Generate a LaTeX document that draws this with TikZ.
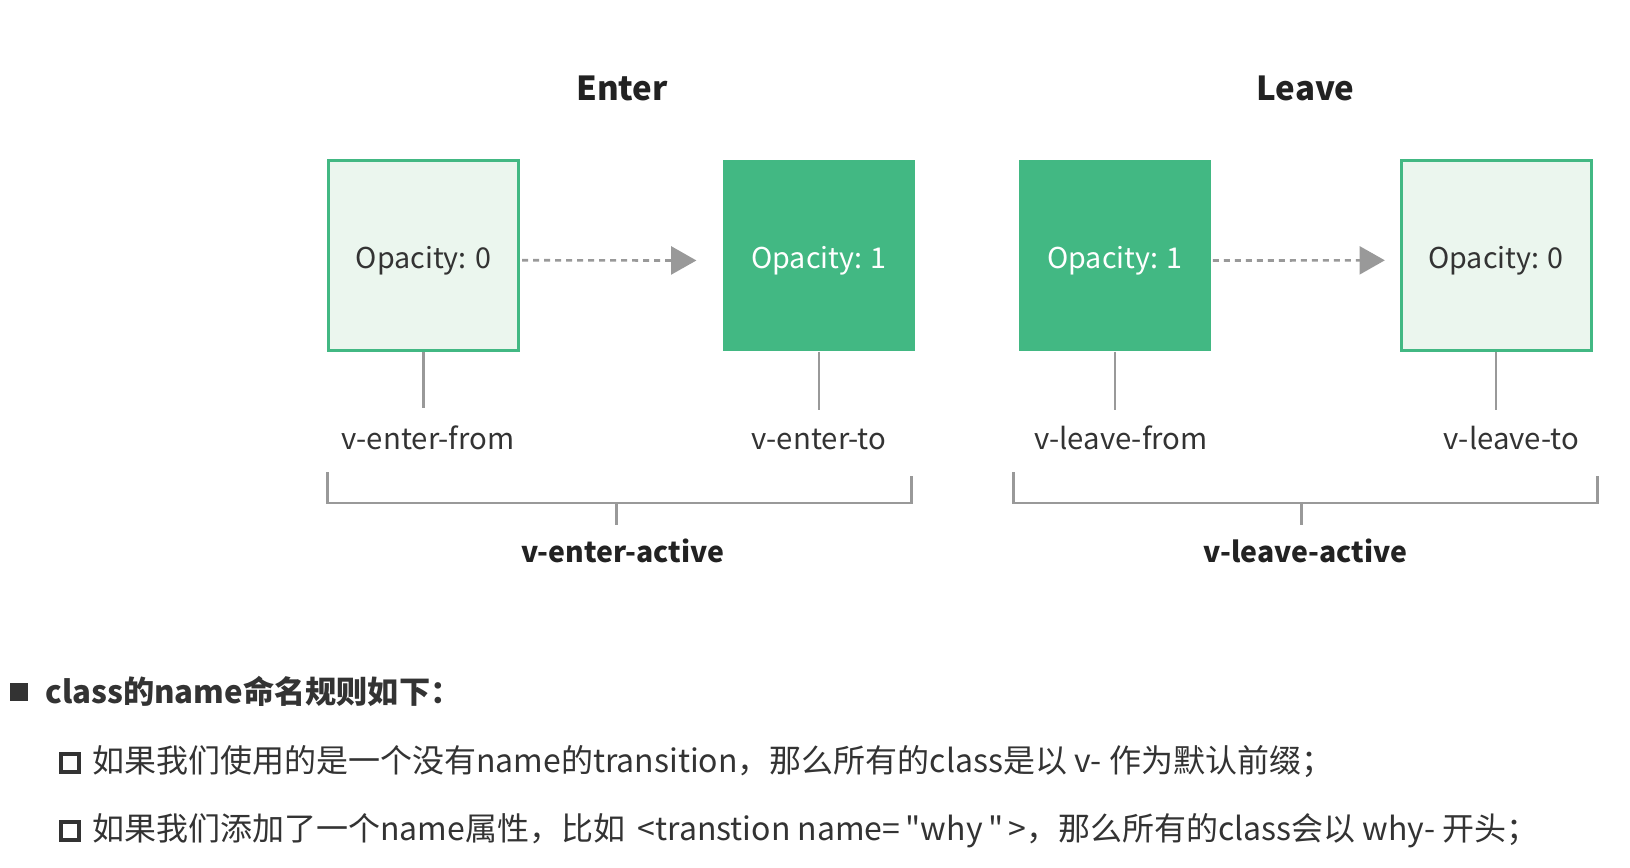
\documentclass[tikz,border=0pt]{standalone}
\usepackage{fontspec}
\setmainfont{Noto Sans CJK SC}
\newfontfamily\plainfont{Noto Sans CJK SC}
\usetikzlibrary{positioning,arrows.meta}

\definecolor{vuegreen}{HTML}{42B883}
\definecolor{palegreen}{HTML}{EBF6EE}
\definecolor{linegray}{HTML}{999999}
\definecolor{inkgray}{HTML}{333333}
\definecolor{headink}{HTML}{222222}

\tikzset{
  zerobox/.style={draw=vuegreen, line width=2.25pt, fill=palegreen, text=inkgray,
    minimum width=142.5pt, minimum height=142.5pt, inner sep=0pt},
  onebox/.style={fill=vuegreen, text=white,
    minimum width=143.5pt, minimum height=143.5pt, inner sep=0pt},
  txt/.style={font=\fontsize{21.5pt}{26pt}\selectfont, inner sep=0pt,
    text height=20pt, text depth=1.2pt},
  lbl/.style={font=\fontsize{22pt}{26pt}\selectfont, inner sep=0pt, text=inkgray, anchor=base},
  title/.style={font=\fontsize{24.8pt}{30pt}\selectfont\bfseries, text=headink},
  active/.style={font=\fontsize{21.3pt}{26pt}\selectfont\bfseries, inner sep=0pt, text=headink, anchor=base},
  stem/.style={draw=linegray, line width=1.6pt},
  flow/.style={draw=linegray, line width=2pt, dash pattern=on 4.5pt off 3.75pt,
    -{Triangle[length=19pt, width=21pt]}},
  body/.style={font=\plainfont\fontsize{24pt}{28pt}\selectfont, text=inkgray, inner sep=0pt, anchor=base west},
  tick/.style={draw=inkgray, line width=3pt, minimum size=13.5pt, inner sep=0pt}
}

\begin{document}
\begin{tikzpicture}[x=0.75pt, y=-0.75pt]
\useasboundingbox (0,0) rectangle (1630,867);

% titles
\node[title] (enter) at (622,88) {Enter};
\node[title] (leave) at (1305.5,88) {Leave};

% state boxes
\node[zerobox, txt] (ef) at (423.5,255.5) {Opacity: 0};
\node[onebox, txt] (et) at (819,255.7) {Opacity: 1};
\node[onebox, txt] (lf) at (1115,255.7) {Opacity: 1};
\node[zerobox, txt] (lt) at (1496,255.5) {Opacity: 0};

\draw[flow, shorten <=1.5pt, shorten >=20pt] ([yshift=-3.6pt]ef.east) -- ([yshift=-3.6pt]et.west);
\draw[flow, shorten <=1.5pt, shorten >=11pt] ([yshift=-3.6pt]lf.east) -- ([yshift=-3.6pt]lt.west);

% class names
\node[lbl] (efl) at (428,449) {v-enter-from};
\node[lbl] (etl) at (819,449) {v-enter-to};
\node[lbl] (lfl) at (1121,449) {v-leave-from};
\node[lbl] (ltl) at (1511.5,449) {v-leave-to};

\coordinate (efs) at (ef.south |- 0,408);
\coordinate (ets) at (et.south |- 0,410);
\coordinate (lfs) at (lf.south |- 0,410);
\coordinate (lts) at (lt.south |- 0,410);
\draw[stem] (ef.south) -- (efs);
\draw[stem] (et.south) -- (ets);
\draw[stem] (lf.south) -- (lfs);
\draw[stem] (lt.south) -- (lts);

% active brackets
\coordinate (ea1) at (327.5,472);
\coordinate (ea2) at (911.5,476);
\coordinate (emid) at (616.5,503);
\coordinate (eend) at (616.5,525);
\coordinate (la1) at (1013.5,472);
\coordinate (la2) at (1597.5,476);
\coordinate (lmid) at (1301.5,503);
\coordinate (lend) at (1301.5,525);
\draw[stem] (ea1) -- (ea1 |- emid) -- (ea2 |- emid) -- (ea2);
\draw[stem] (emid) -- (eend);
\draw[stem] (la1) -- (la1 |- lmid) -- (la2 |- lmid) -- (la2);
\draw[stem] (lmid) -- (lend);

\node[active] (eact) at (622.5,562) {v-enter-active};
\node[active] (lact) at (1305.5,562) {v-leave-active};

% naming rules
\node[fill=inkgray, minimum size=13.5pt, inner sep=0pt] (dot) at (19,692) {};
\node[body, font=\plainfont\fontsize{23.4pt}{28pt}\selectfont\bfseries] (rule) at (45,703) {class的name命名规则如下：};
\node[tick] (box1) at (70,763) {};
\node[body] (rule1) at (92,772) {如果我们使用的是一个没有name的transition，那么所有的class是以 v- 作为默认前缀；};
\node[tick] (box2) at (70,831) {};
\node[body] (rule2) at (92,840) {如果我们添加了一个name属性，比如\, <transtion name=\,"why\,"\,>，那么所有的class会以 why- 开头；};
\end{tikzpicture}
\end{document}
